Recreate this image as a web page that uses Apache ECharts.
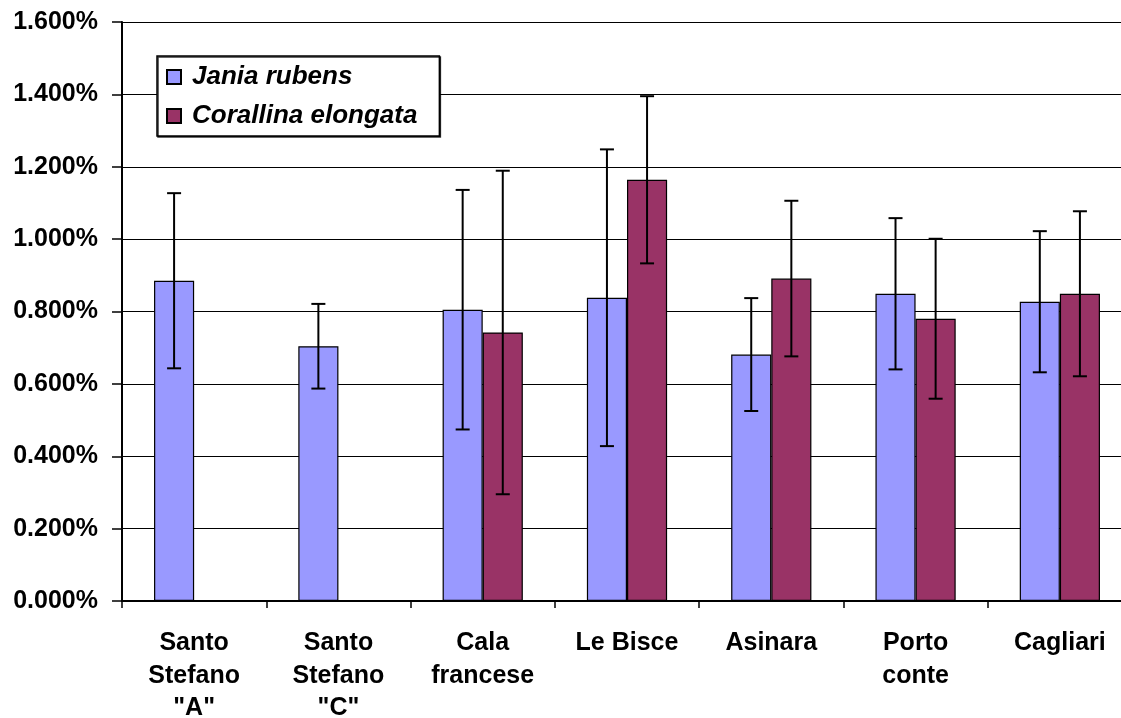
<!DOCTYPE html>
<html>
<head>
<meta charset="utf-8">
<script src="https://cdn.jsdelivr.net/npm/echarts@6/dist/echarts.min.js"></script>
<style>
html,body{margin:0;padding:0;background:#fff;}
#chart{width:1121px;height:718px;}
</style>
</head>
<body>
<div id="chart"></div>
<script>
// ---- data (values in %) ----
const categories = ['Santo\nStefano\n"A"', 'Santo\nStefano\n"C"', 'Cala\nfrancese', 'Le Bisce', 'Asinara', 'Porto\nconte', 'Cagliari'];
const seriesNames = ['Jania rubens', 'Corallina elongata'];
const janiaValues = [0.885, 0.704, 0.805, 0.838, 0.681, 0.849, 0.827];
const janiaErrors = [0.242, 0.117, 0.331, 0.410, 0.156, 0.209, 0.195];
const corallinaValues = [null, null, 0.742, 1.164, 0.891, 0.780, 0.849];
const corallinaErrors = [null, null, 0.447, 0.231, 0.215, 0.221, 0.228];
const yTicks = [0, 0.2, 0.4, 0.6, 0.8, 1.0, 1.2, 1.4, 1.6];

const colors = ['#9999FF', '#993366'];
const catGap = 0.444;

function errData(vals, errs) {
  const out = [];
  vals.forEach((v, i) => {
    if (v !== null && errs[i] !== null) out.push([i, v, errs[i]]);
  });
  return out;
}

function makeErrRender(side) {
  return function (params, api) {
    const idx = api.value(0);
    const mean = api.value(1);
    const err = api.value(2);
    const catW = api.size([1, 0])[0];
    const barW = catW * (1 - catGap) / 2;
    const c = api.coord([idx, mean]);
    const x = c[0] + side * barW / 2;
    const yTop = api.coord([idx, mean + err])[1];
    const yBot = api.coord([idx, mean - err])[1];
    const cap = 7;
    const style = { stroke: '#000', lineWidth: 2 };
    return {
      type: 'group',
      children: [
        { type: 'line', shape: { x1: x, y1: yTop, x2: x, y2: yBot }, style: style },
        { type: 'line', shape: { x1: x - cap, y1: yTop, x2: x + cap, y2: yTop }, style: style },
        { type: 'line', shape: { x1: x - cap, y1: yBot, x2: x + cap, y2: yBot }, style: style }
      ]
    };
  };
}

const chart = echarts.init(document.getElementById('chart'), null, { renderer: 'canvas' });
const font = '"Liberation Sans", Arial, sans-serif';

chart.setOption({
  animation: false,
  backgroundColor: '#fff',
  grid: { left: 122, top: 22, right: -11, bottom: 117, containLabel: false, outerBoundsMode: 'none' },
  legend: {
    orient: 'vertical',
    left: 157,
    top: 56,
    data: seriesNames,
    icon: 'rect',
    itemWidth: 14,
    itemHeight: 14,
    itemGap: 13,
    padding: [8, 22, 7, 9],
    backgroundColor: '#fff',
    borderColor: '#000',
    borderWidth: 1.5,
    shadowColor: 'rgba(0,0,0,0.8)',
    shadowOffsetX: 1,
    shadowOffsetY: 1,
    shadowBlur: 0,
    textStyle: { fontFamily: font, fontSize: 26, fontWeight: 'bold', fontStyle: 'italic', color: '#000', padding: [0, 0, 0, 6] }
  },
  xAxis: {
    type: 'category',
    data: categories,
    axisLine: { lineStyle: { color: '#000', width: 2 } },
    axisTick: { show: true, alignWithLabel: false, length: 7, lineStyle: { color: '#000', width: 1.5 } },
    axisLabel: {
      interval: 0,
      margin: 26,
      fontFamily: font,
      fontSize: 25,
      fontWeight: 'bold',
      color: '#000',
      lineHeight: 32.5
    },
    splitLine: { show: false }
  },
  yAxis: {
    type: 'value',
    min: yTicks[0],
    max: yTicks[yTicks.length - 1],
    interval: 0.2,
    axisLine: { show: true, lineStyle: { color: '#000', width: 2 } },
    axisTick: { show: true, length: 10, lineStyle: { color: '#000', width: 1.5 } },
    axisLabel: {
      margin: 24,
      fontFamily: font,
      fontSize: 25,
      fontWeight: 'bold',
      color: '#000',
      formatter: v => v.toFixed(3) + '%'
    },
    splitLine: { show: true, showMinLine: false, showMaxLine: true, lineStyle: { color: '#000', width: 1 } }
  },
  series: [
    {
      name: seriesNames[0],
      type: 'bar',
      data: janiaValues,
      barGap: '0%',
      barCategoryGap: (catGap * 100) + '%',
      itemStyle: { color: colors[0], borderColor: '#000', borderWidth: 1.2 },
      z: 2
    },
    {
      name: seriesNames[1],
      type: 'bar',
      data: corallinaValues.map(v => v === null ? '-' : v),
      barGap: '0%',
      barCategoryGap: (catGap * 100) + '%',
      itemStyle: { color: colors[1], borderColor: '#000', borderWidth: 1.2 },
      z: 2
    },
    {
      type: 'custom',
      name: 'errJ',
      renderItem: makeErrRender(-1),
      data: errData(janiaValues, janiaErrors),
      encode: { x: 0, y: 1 },
      z: 5,
      silent: true
    },
    {
      type: 'custom',
      name: 'errC',
      renderItem: makeErrRender(1),
      data: errData(corallinaValues, corallinaErrors),
      encode: { x: 0, y: 1 },
      z: 5,
      silent: true
    }
  ]
});
</script>
</body>
</html>
